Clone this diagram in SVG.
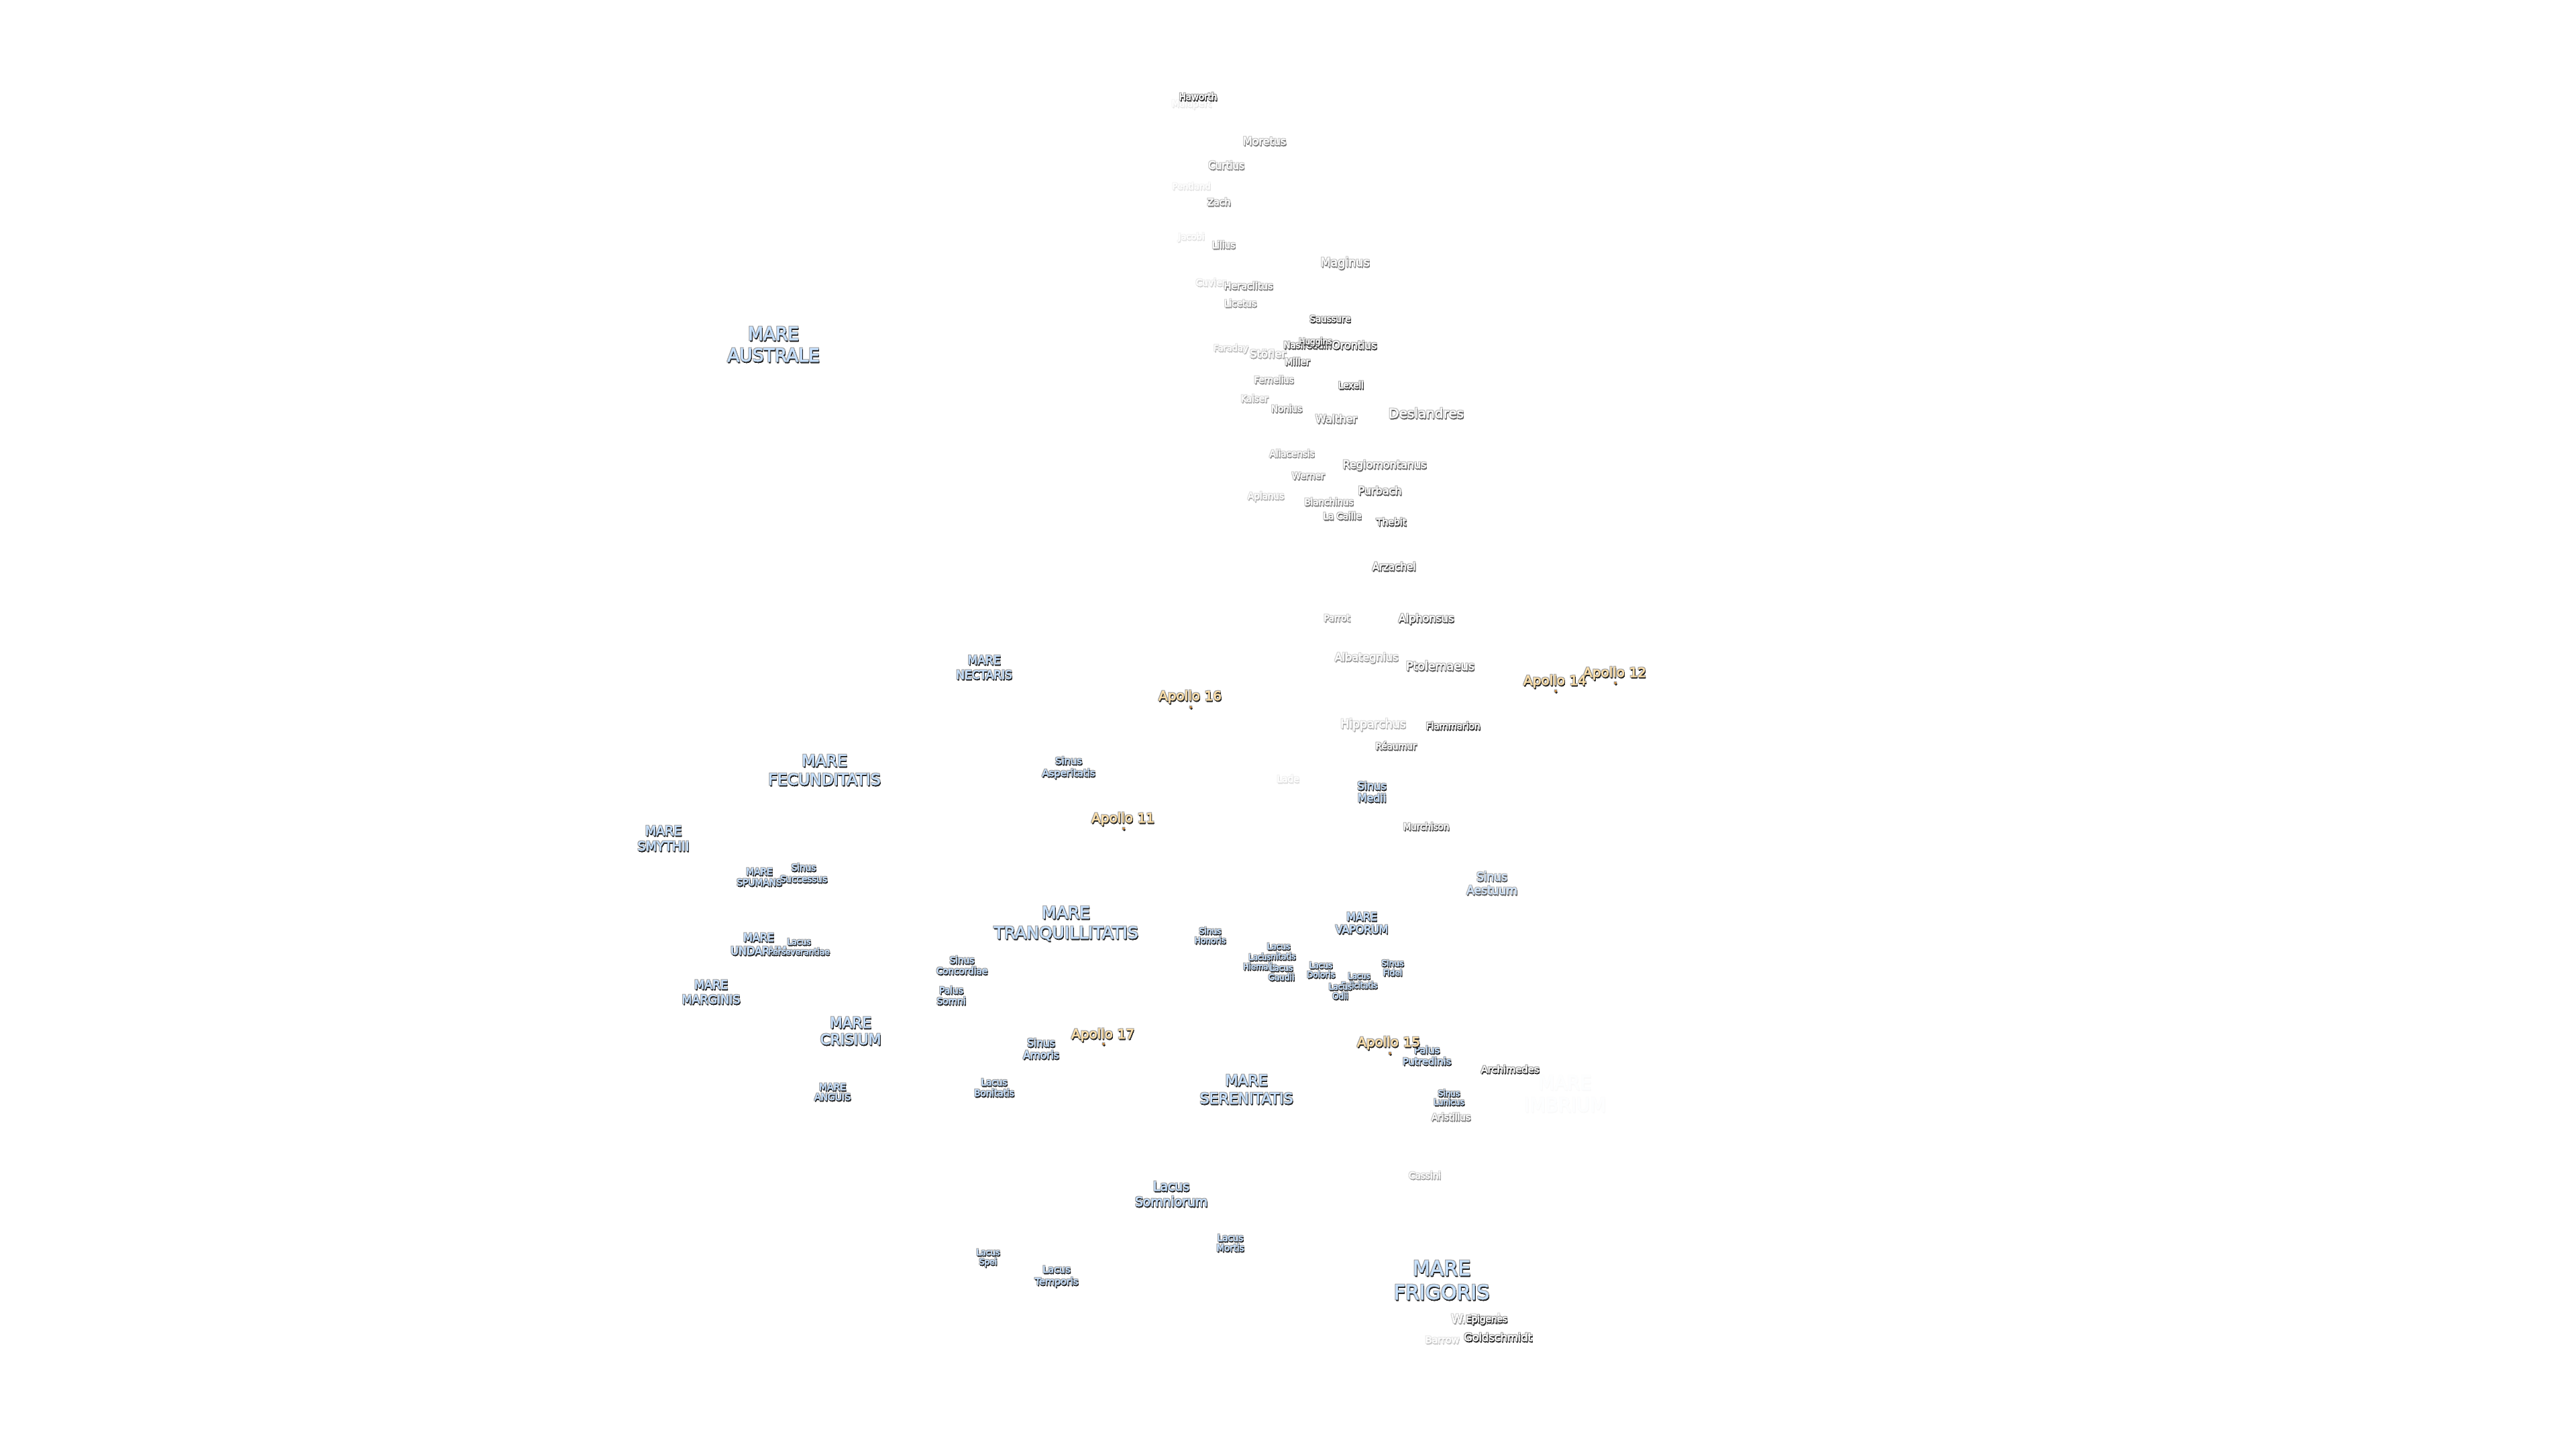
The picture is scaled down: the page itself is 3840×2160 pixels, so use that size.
<svg xmlns="http://www.w3.org/2000/svg" width="3840" height="2160" viewBox="0 0 3840 2160">
<style>
text{font-family:"DejaVu Sans",sans-serif;text-anchor:middle;stroke-width:0.35}
g.l{filter:url(#h)}
.m{fill:#c8e2ff;stroke:#c8e2ff}
.c{fill:#ffffff;stroke:#ffffff}
.a{fill:#ffe2ac;stroke:#ffe2ac}
.d{fill:#d89030}
</style>
<defs>
<filter id="h" x="-25%" y="-40%" width="150%" height="180%">
<feMorphology in="SourceAlpha" operator="dilate" radius="0.7" result="fat"/>
<feGaussianBlur in="fat" stdDeviation="0.6" result="ringb"/>
<feFlood flood-color="#9a9a9a"/>
<feComposite in2="ringb" operator="in" result="ring"/>
<feGaussianBlur in="SourceAlpha" stdDeviation="0.7" result="b"/>
<feOffset in="b" dx="1.4" dy="1.5" result="o"/>
<feComponentTransfer in="o" result="s"><feFuncA type="linear" slope="2"/></feComponentTransfer>
<feFlood flood-color="#282828"/>
<feComposite in2="s" operator="in" result="sh"/>
<feGaussianBlur in="SourceGraphic" stdDeviation="0.3" result="t"/>
<feMerge><feMergeNode in="ring"/><feMergeNode in="sh"/><feMergeNode in="t"/></feMerge>
</filter>
</defs>
<rect width="3840" height="2160" fill="#ffffff"/>
<g id="connectors"/>
<g id="labels" transform="translate(0,-1)">
<g id="mare-imbrium" class="l" opacity="0.015"><text class="m" font-size="27.5" x="2333" y="1625">MARE</text><text class="m" font-size="27.5" x="2333" y="1658">IMBRIUM</text></g>
<g id="mare-australe" class="l"><text class="m" font-size="26.5" x="1153" y="508">MARE</text><text class="m" font-size="26.5" x="1153" y="540">AUSTRALE</text></g>
<g id="mare-nectaris" class="l"><text class="m" font-size="17" x="1467" y="991">MARE</text><text class="m" font-size="17" x="1467" y="1013">NECTARIS</text></g>
<g id="mare-fecunditatis" class="l"><text class="m" font-size="23.5" x="1229" y="1143">MARE</text><text class="m" font-size="23.5" x="1229" y="1171">FECUNDITATIS</text></g>
<g id="mare-smythii" class="l"><text class="m" font-size="19" x="989" y="1246">MARE</text><text class="m" font-size="19" x="989" y="1269">SMYTHII</text></g>
<g id="mare-spumans" class="l"><text class="m" font-size="13.8" x="1132" y="1305">MARE</text><text class="m" font-size="13.8" x="1132" y="1321">SPUMANS</text></g>
<g id="mare-undarum" class="l"><text class="m" font-size="16" x="1131" y="1404">MARE</text><text class="m" font-size="16" x="1131" y="1424">UNDARUM</text></g>
<g id="mare-marginis" class="l"><text class="m" font-size="17.4" x="1060" y="1475">MARE</text><text class="m" font-size="17.4" x="1060" y="1497">MARGINIS</text></g>
<g id="mare-crisium" class="l"><text class="m" font-size="21.5" x="1268" y="1533">MARE</text><text class="m" font-size="21.5" x="1268" y="1558">CRISIUM</text></g>
<g id="mare-anguis" class="l"><text class="m" font-size="14" x="1241" y="1626">MARE</text><text class="m" font-size="14" x="1241" y="1641">ANGUIS</text></g>
<g id="mare-tranquillitatis" class="l"><text class="m" font-size="25" x="1589" y="1370">MARE</text><text class="m" font-size="25" x="1589" y="1400">TRANQUILLITATIS</text></g>
<g id="mare-vaporum" class="l"><text class="m" font-size="15.8" x="2030" y="1373">MARE</text><text class="m" font-size="15.8" x="2030" y="1392">VAPORUM</text></g>
<g id="mare-serenitatis" class="l"><text class="m" font-size="22" x="1858" y="1619">MARE</text><text class="m" font-size="22" x="1858" y="1646">SERENITATIS</text></g>
<g id="mare-frigoris" class="l"><text class="m" font-size="30" x="2149" y="1902">MARE</text><text class="m" font-size="30" x="2149" y="1938">FRIGORIS</text></g>
<g id="sinus-asperitatis" class="l"><text class="m" font-size="14.8" x="1593" y="1140">Sinus</text><text class="m" font-size="14.8" x="1593" y="1158">Asperitatis</text></g>
<g id="sinus-medii" class="l"><text class="m" font-size="16" x="2045" y="1178">Sinus</text><text class="m" font-size="16" x="2045" y="1196">Medii</text></g>
<g id="sinus-aestuum" class="l" opacity="0.75"><text class="m" font-size="17" x="2224" y="1314">Sinus</text><text class="m" font-size="17" x="2224" y="1334">Aestuum</text></g>
<g id="sinus-successus" class="l"><text class="m" font-size="13.5" x="1198" y="1299">Sinus</text><text class="m" font-size="13.5" x="1198" y="1316">Successus</text></g>
<g id="lacus-perseverantiae" class="l"><text class="m" font-size="12.2" x="1191" y="1409">Lacus</text><text class="m" font-size="12.2" x="1191" y="1424">Perseverantiae</text></g>
<g id="sinus-concordiae" class="l"><text class="m" font-size="13.5" x="1434" y="1437">Sinus</text><text class="m" font-size="13.5" x="1434" y="1453">Concordiae</text></g>
<g id="palus-somni" class="l"><text class="m" font-size="13.8" x="1418" y="1482">Palus</text><text class="m" font-size="13.8" x="1418" y="1498">Somni</text></g>
<g id="sinus-amoris" class="l"><text class="m" font-size="15.4" x="1552" y="1561">Sinus</text><text class="m" font-size="15.4" x="1552" y="1579">Amoris</text></g>
<g id="sinus-honoris" class="l"><text class="m" font-size="12.2" x="1804" y="1393">Sinus</text><text class="m" font-size="12.2" x="1804" y="1407">Honoris</text></g>
<g id="lacus-lenitatis" class="l"><text class="m" font-size="12" x="1906" y="1416">Lacus</text><text class="m" font-size="12" x="1906" y="1431">Lenitatis</text></g>
<g id="lacus-hiemalis" class="l"><text class="m" font-size="11.5" x="1878" y="1432">Lacus</text><text class="m" font-size="11.5" x="1878" y="1446">Hiemalis</text></g>
<g id="lacus-gaudii" class="l"><text class="m" font-size="12" x="1910" y="1448">Lacus</text><text class="m" font-size="12" x="1910" y="1462">Gaudii</text></g>
<g id="lacus-doloris" class="l"><text class="m" font-size="12" x="1969" y="1444">Lacus</text><text class="m" font-size="12" x="1969" y="1458">Doloris</text></g>
<g id="sinus-fidei" class="l"><text class="m" font-size="12.3" x="2076" y="1441">Sinus</text><text class="m" font-size="12.3" x="2076" y="1455">Fidei</text></g>
<g id="lacus-felicitatis" class="l"><text class="m" font-size="11.5" x="2026" y="1460">Lacus</text><text class="m" font-size="11.5" x="2026" y="1474">Felicitatis</text></g>
<g id="lacus-odii" class="l"><text class="m" font-size="12" x="1998" y="1476">Lacus</text><text class="m" font-size="12" x="1998" y="1490">Odii</text></g>
<g id="palus-putredinis" class="l"><text class="m" font-size="14.6" x="2127" y="1571">Palus</text><text class="m" font-size="14.6" x="2127" y="1588">Putredinis</text></g>
<g id="sinus-lunicus" class="l"><text class="m" font-size="12" x="2160" y="1635">Sinus</text><text class="m" font-size="12" x="2160" y="1648">Lunicus</text></g>
<g id="lacus-bonitatis" class="l"><text class="m" font-size="13.5" x="1482" y="1619">Lacus</text><text class="m" font-size="13.5" x="1482" y="1635">Bonitatis</text></g>
<g id="lacus-somniorum" class="l"><text class="m" font-size="18.8" x="1746" y="1776">Lacus</text><text class="m" font-size="18.8" x="1746" y="1799">Somniorum</text></g>
<g id="lacus-mortis" class="l"><text class="m" font-size="13.4" x="1834" y="1851">Lacus</text><text class="m" font-size="13.4" x="1834" y="1866">Mortis</text></g>
<g id="lacus-spei" class="l"><text class="m" font-size="12.2" x="1473" y="1872">Lacus</text><text class="m" font-size="12.2" x="1473" y="1886">Spei</text></g>
<g id="lacus-temporis" class="l"><text class="m" font-size="14.4" x="1575" y="1898">Lacus</text><text class="m" font-size="14.4" x="1575" y="1916">Temporis</text></g>
<g id="malapert" class="l" opacity="0.1"><text class="c" font-size="13.4" x="1776" y="160">Malapert</text></g>
<g id="haworth" class="l"><text class="c" font-size="13.3" x="1786" y="150">Haworth</text></g>
<g id="moretus" class="l" opacity="0.6"><text class="c" font-size="16" x="1885" y="217">Moretus</text></g>
<g id="curtius" class="l" opacity="0.55"><text class="c" font-size="15" x="1828" y="253">Curtius</text></g>
<g id="pentland" class="l" opacity="0.12"><text class="c" font-size="13" x="1776" y="283">Pentland</text></g>
<g id="zach" class="l" opacity="0.6"><text class="c" font-size="14" x="1817" y="307">Zach</text></g>
<g id="jacobi" class="l" opacity="0.12"><text class="c" font-size="13" x="1776" y="358">Jacobi</text></g>
<g id="lilius" class="l" opacity="0.55"><text class="c" font-size="13.6" x="1824" y="371">Lilius</text></g>
<g id="maginus" class="l" opacity="0.6"><text class="c" font-size="17.5" x="2005" y="398">Maginus</text></g>
<g id="cuvier" class="l" opacity="0.2"><text class="c" font-size="14" x="1805" y="427">Cuvier</text></g>
<g id="heraclitus" class="l" opacity="0.6"><text class="c" font-size="14.5" x="1861" y="432">Heraclitus</text></g>
<g id="licetus" class="l" opacity="0.5"><text class="c" font-size="13.5" x="1849" y="458">Licetus</text></g>
<g id="saussure" class="l" opacity="0.95"><text class="c" font-size="13.4" x="1983" y="481">Saussure</text></g>
<g id="faraday" class="l" opacity="0.3"><text class="c" font-size="13" x="1835" y="524">Faraday</text></g>
<g id="stofler" class="l" opacity="0.4"><text class="c" font-size="16.4" x="1890" y="534">Stöfler</text></g>
<g id="nasireddin" class="l" opacity="0.9"><text class="c" font-size="13.3" x="1949" y="520">Nasireddin</text></g>
<g id="huggins" class="l" opacity="0.9"><text class="c" font-size="12" x="1961" y="514">Huggins</text></g>
<g id="orontius" class="l" opacity="0.9"><text class="c" font-size="15.8" x="2019" y="521">Orontius</text></g>
<g id="miller" class="l" opacity="0.8"><text class="c" font-size="13.5" x="1934" y="545">Miller</text></g>
<g id="fernelius" class="l" opacity="0.55"><text class="c" font-size="13.2" x="1899" y="572">Fernelius</text></g>
<g id="lexell" class="l" opacity="0.95"><text class="c" font-size="13.2" x="2014" y="580">Lexell</text></g>
<g id="kaiser" class="l" opacity="0.4"><text class="c" font-size="13.2" x="1870" y="600">Kaiser</text></g>
<g id="nonius" class="l" opacity="0.6"><text class="c" font-size="13.4" x="1918" y="615">Nonius</text></g>
<g id="walther" class="l" opacity="0.65"><text class="c" font-size="16" x="1992" y="631">Walther</text></g>
<g id="deslandres" class="l" opacity="0.7"><text class="c" font-size="20" x="2126" y="624">Deslandres</text></g>
<g id="aliacensis" class="l" opacity="0.5"><text class="c" font-size="13.5" x="1926" y="682">Aliacensis</text></g>
<g id="regiomontanus" class="l" opacity="0.7"><text class="c" font-size="16" x="2064" y="699">Regiomontanus</text></g>
<g id="werner" class="l" opacity="0.6"><text class="c" font-size="13.5" x="1950" y="715">Werner</text></g>
<g id="purbach" class="l" opacity="0.8"><text class="c" font-size="16" x="2057" y="738">Purbach</text></g>
<g id="aplanus" class="l" opacity="0.35"><text class="c" font-size="13.5" x="1887" y="745">Aplanus</text></g>
<g id="blanchinus" class="l" opacity="0.6"><text class="c" font-size="13.4" x="1981" y="754">Blanchinus</text></g>
<g id="la-caille" class="l" opacity="0.7"><text class="c" font-size="13.4" x="2001" y="775">La Caille</text></g>
<g id="thebit" class="l" opacity="0.9"><text class="c" font-size="14" x="2074" y="784">Thebit</text></g>
<g id="arzachel" class="l" opacity="0.85"><text class="c" font-size="15" x="2078" y="851">Arzachel</text></g>
<g id="parrot" class="l" opacity="0.5"><text class="c" font-size="13.2" x="1993" y="927">Parrot</text></g>
<g id="alphonsus" class="l" opacity="0.85"><text class="c" font-size="16" x="2126" y="928">Alphonsus</text></g>
<g id="albategnius" class="l" opacity="0.45"><text class="c" font-size="16" x="2037" y="986">Albategnius</text></g>
<g id="ptolemaeus" class="l" opacity="0.75"><text class="c" font-size="17.4" x="2147" y="1000">Ptolemaeus</text></g>
<g id="hipparchus" class="l" opacity="0.35"><text class="c" font-size="17.3" x="2047" y="1086">Hipparchus</text></g>
<g id="flammarion" class="l"><text class="c" font-size="13.5" x="2166" y="1088">Flammarion</text></g>
<g id="reaumur" class="l" opacity="0.8"><text class="c" font-size="13.5" x="2081" y="1118">Réaumur</text></g>
<g id="lade" class="l" opacity="0.15"><text class="c" font-size="13.7" x="1920" y="1167">Lade</text></g>
<g id="murchison" class="l" opacity="0.8"><text class="c" font-size="13.4" x="2126" y="1238">Murchison</text></g>
<g id="archimedes" class="l"><text class="c" font-size="14.7" x="2251" y="1600">Archimedes</text></g>
<g id="aristillus" class="l" opacity="0.6"><text class="c" font-size="13.6" x="2163" y="1671">Aristillus</text></g>
<g id="cassini" class="l" opacity="0.4"><text class="c" font-size="13.6" x="2124" y="1758">Cassini</text></g>
<g id="w-bond" class="l" opacity="0.45"><text class="c" font-size="18" x="2200" y="1973">W. Bond</text></g>
<g id="epigenes" class="l"><text class="c" font-size="13.5" x="2216" y="1972">Epigenes</text></g>
<g id="barrow" class="l" opacity="0.25"><text class="c" font-size="14.5" x="2150" y="2003">Barrow</text></g>
<g id="goldschmidt" class="l"><text class="c" font-size="16.2" x="2233" y="2000">Goldschmidt</text></g>
<g id="apollo-11" class="l"><text class="a" font-size="20" x="1674" y="1227">Apollo 11</text><circle class="d" cx="1675" cy="1236" r="1.5"/></g>
<g id="apollo-12" class="l"><text class="a" font-size="20" x="2407" y="1010">Apollo 12</text><circle class="d" cx="2408" cy="1019" r="1.5"/></g>
<g id="apollo-14" class="l"><text class="a" font-size="20" x="2318" y="1022">Apollo 14</text><circle class="d" cx="2319" cy="1031" r="1.5"/></g>
<g id="apollo-15" class="l"><text class="a" font-size="20" x="2070" y="1561">Apollo 15</text><circle class="d" cx="2072" cy="1571" r="1.5"/></g>
<g id="apollo-16" class="l"><text class="a" font-size="20" x="1774" y="1045">Apollo 16</text><circle class="d" cx="1775" cy="1055" r="1.5"/></g>
<g id="apollo-17" class="l"><text class="a" font-size="20" x="1644" y="1549">Apollo 17</text><circle class="d" cx="1645" cy="1557" r="1.5"/></g>
</g>
</svg>
